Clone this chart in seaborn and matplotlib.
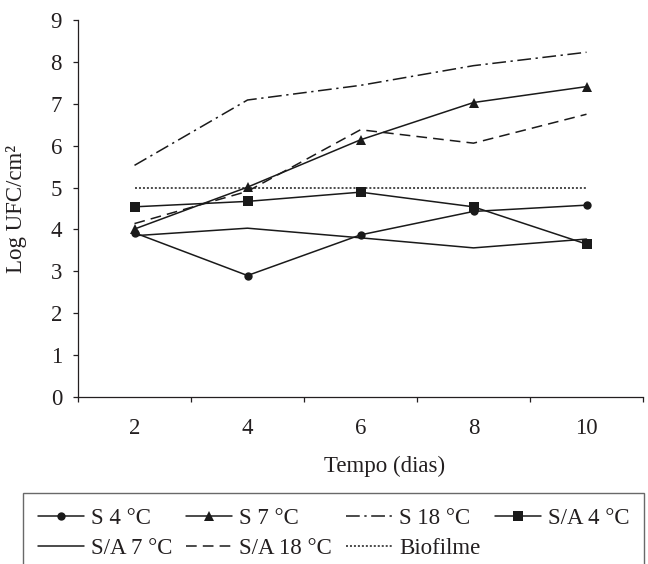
import numpy as np
import pandas as pd
import matplotlib
matplotlib.use("Agg")
import matplotlib.pyplot as plt
import seaborn as sns
from matplotlib.ticker import FixedLocator

dias = [2, 4, 6, 8, 10]
s_4 = [3.92, 2.90, 3.87, 4.43, 4.58]
s_7 = [4.01, 5.01, 6.14, 7.03, 7.41]
s_18 = [5.53, 7.09, 7.44, 7.91, 8.23]
sa_4 = [4.54, 4.67, 4.89, 4.54, 3.65]
sa_7 = [3.85, 4.03, 3.80, 3.56, 3.77]
sa_18 = [4.14, 4.91, 6.38, 6.06, 6.75]
biofilme = [5.0, 5.0, 5.0, 5.0, 5.0]

labels = ["S 4 °C", "S 7 °C", "S 18 °C", "S/A 4 °C", "S/A 7 °C", "S/A 18 °C", "Biofilme"]
series = [s_4, s_7, s_18, sa_4, sa_7, sa_18, biofilme]

sns.set_style("ticks")
plt.rcParams['font.family'] = ['Liberation Serif', 'DejaVu Serif']
ink = '#231f20'
plt.rcParams['text.color'] = ink
plt.rcParams['axes.labelcolor'] = ink
plt.rcParams['xtick.color'] = ink
plt.rcParams['ytick.color'] = ink

W, H = 648, 564
fig = plt.figure(figsize=(W / 100, H / 100), dpi=100)
ax = fig.add_axes([78 / W, 1 - 397 / H, 565 / W, 377 / H])

styles = [
    dict(linestyle='-', marker='o', markersize=6),
    dict(linestyle='-', marker='^', markersize=7.5),
    dict(linestyle=(0, (9, 3, 1.5, 3)), marker=None),
    dict(linestyle='-', marker='s', markersize=7.5),
    dict(linestyle='-', marker=None),
    dict(linestyle=(0, (7, 4)), marker=None),
    dict(linestyle=(0, (1.3, 1.3)), marker=None),
]

pos = np.arange(len(dias))
handles = []
for lab, vals, st in zip(labels, series, styles):
    df = pd.DataFrame({"x": pos, "y": vals})
    sns.lineplot(data=df, x="x", y="y", ax=ax, color='#1a1a1a', linewidth=1.1,
                 linestyle=st['linestyle'], marker=st['marker'],
                 markersize=st.get('markersize', 0), markeredgewidth=0,
                 label=lab, legend=False)
    handles.append(ax.lines[-1])

ax.set_xlim(-0.5, len(dias) - 0.5)
ax.set_ylim(0, 9)
ax.set_yticks(range(0, 10))
ax.set_xticks(pos)
ax.set_xticklabels([str(d) for d in dias])
ax.xaxis.set_minor_locator(FixedLocator(np.arange(-0.5, len(dias), 1.0)))
ax.tick_params(axis='x', which='major', length=0, pad=15, labelsize=16.5)
ax.tick_params(axis='x', which='minor', length=3.5, width=0.9, direction='out', color=ink)
ax.tick_params(axis='y', which='major', length=3.5, width=0.9, direction='out', pad=8, labelsize=16.5)

for side in ['top', 'right']:
    ax.spines[side].set_visible(False)
for side in ['left', 'bottom']:
    ax.spines[side].set_color(ink)
    ax.spines[side].set_linewidth(0.9)

ax.set_xlabel("Tempo (dias)", fontsize=16.5)
ax.xaxis.set_label_coords(0.543, -0.155)
ax.set_ylabel("Log UFC/cm²", fontsize=16.5)
ax.yaxis.set_label_coords(-0.09, 0.5)

order = [0, 4, 1, 5, 2, 6, 3]
leg = fig.legend([handles[i] for i in order], [labels[i] for i in order],
                 loc='upper left', bbox_to_anchor=(23 / W, 1 - 493 / H, 621 / W, 0),
                 bbox_transform=fig.transFigure, mode='expand', ncol=4,
                 frameon=True, fancybox=False, borderaxespad=0, fontsize=16.5,
                 handlelength=2.0, handletextpad=0.3, columnspacing=0.4,
                 labelspacing=0.4, borderpad=0.65)
leg.get_frame().set_edgecolor('#444444')
leg.get_frame().set_linewidth(1.0)
for t in leg.get_texts():
    t.set_color(ink)

fig.savefig("out.png", dpi=100)
